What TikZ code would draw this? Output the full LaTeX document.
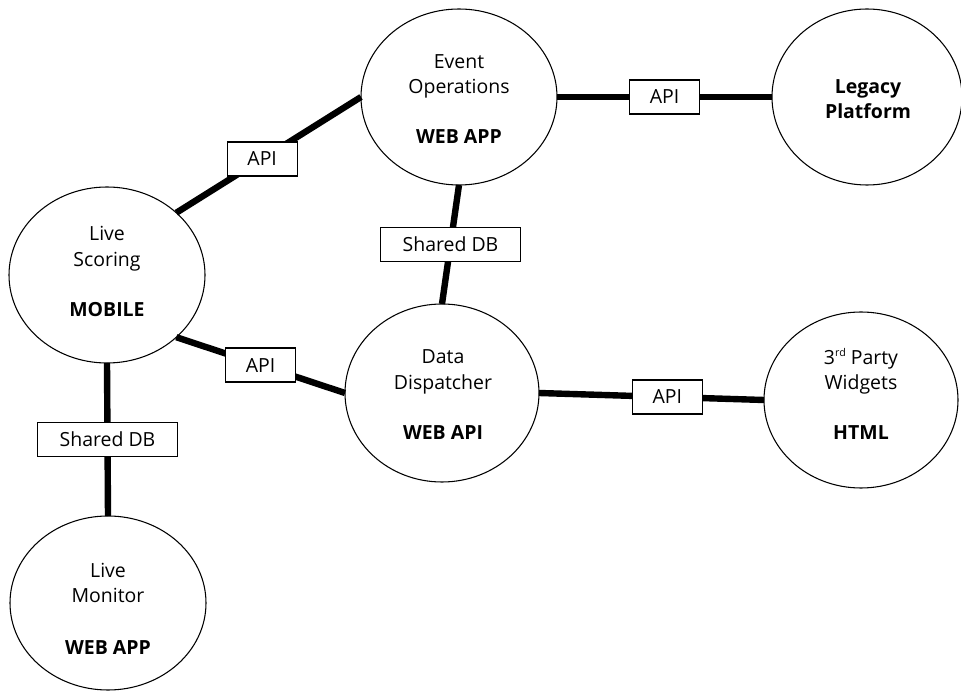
\documentclass[tikz,border=0pt]{standalone}
\usepackage{fontspec}
\setmainfont{Open Sans}
\usetikzlibrary{shapes.geometric}
\begin{document}
\begin{tikzpicture}[x=0.75pt,y=-0.75pt,
  sys/.style={ellipse, draw, line width=0.8pt, minimum width=147pt, minimum height=132pt, inner sep=0pt, outer sep=0pt},
  tag/.style={draw, fill=white, line width=1pt, minimum height=25.5pt, inner sep=0pt, font=\fontsize{14.6}{16}\selectfont},
  apitag/.style={tag, minimum width=52.5pt},
  dbtag/.style={tag, minimum width=105pt},
  link/.style={line width=4.8pt},
  txt/.style={anchor=base, inner sep=0pt, font=\fontsize{14.6}{16}\selectfont},
  btxt/.style={txt, font=\fontsize{14.6}{16}\selectfont\bfseries}]
\useasboundingbox (0,0) rectangle (961,691);

% systems
\node[sys] (eo) at (459,97) {};
\node[sys, minimum width=142.5pt] (lp) at (867,97) {};
\node[sys] (ls) at (107,275) {};
\node[sys, minimum width=145.5pt, minimum height=133.5pt] (dd) at (442,393) {};
\node[sys, minimum width=145.5pt] (wg) at (861,400) {};
\node[sys, minimum height=130.5pt] (lm) at (108,603) {};

% texts
\node[txt] (eo1) at (459,68.5) {Event};
\node[txt] (eo2) at (459,93.5) {Operations};
\node[btxt] (eo3) at (459,143.5) {WEB APP};

\node[btxt] (lp1) at (868,93.5) {Legacy};
\node[btxt] (lp2) at (868,118.5) {Platform};

\node[txt] (ls1) at (107,240.5) {Live};
\node[txt] (ls2) at (107,266.5) {Scoring};
\node[btxt] (ls3) at (107,316.5) {MOBILE};

\node[txt] (dd1) at (443,364) {Data};
\node[txt] (dd2) at (443,390) {Dispatcher};
\node[btxt] (dd3) at (443,440) {WEB API};

\node[txt] (wg1) at (861,365) {3\raisebox{0.45em}{\fontsize{8}{8}\selectfont rd} Party};
\node[txt] (wg2) at (861,390) {Widgets};
\node[btxt] (wg3) at (861,440) {HTML};

\node[txt] (lm1) at (108,578) {Live};
\node[txt] (lm2) at (108,603) {Monitor};
\node[btxt] (lm3) at (108,654) {WEB APP};

% connectors
\draw[link] (ls.north east) -- node[apitag, pos=0.465] (a1) {API} (eo.west);
\draw[link] (eo.east) -- node[apitag, pos=0.5] (a2) {API} (lp.west);
\draw[link] (eo.south) -- node[dbtag, pos=0.5] (d1) {Shared DB} (dd.north);
\draw[link] (ls.south east) -- node[apitag, pos=0.5] (a3) {API} (dd.west);
\draw[link] (dd.east) -- node[apitag, pos=0.57] (a4) {API} (wg.west);
\draw[link] (ls.south) -- node[dbtag, pos=0.5] (d2) {Shared DB} (lm.north);
\end{tikzpicture}
\end{document}
